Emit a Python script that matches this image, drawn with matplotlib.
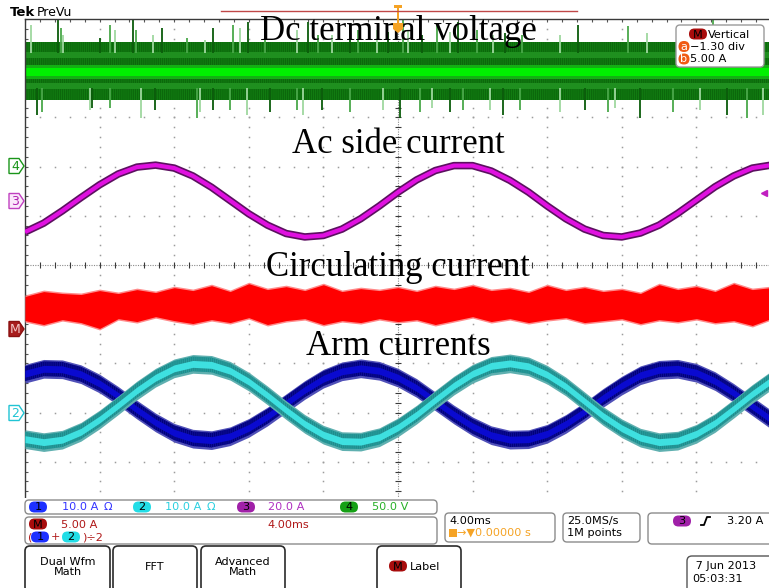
import matplotlib
matplotlib.use("Agg")
import matplotlib.pyplot as plt
import numpy as np
from matplotlib.patches import FancyBboxPatch, Polygon, Rectangle

# scope screen: 4.00 ms/div, 10 div across -> -20..20 ms ; vertical in screen divisions
t_ms = np.arange(-20, 21)

# ch3 ac side current (div)
ac_current = [0.67, 0.85, 1.10, 1.37, 1.63, 1.85, 1.99, 2.03, 1.97, 1.81, 1.58, 1.31, 1.04, 0.81,
              0.64, 0.57, 0.60, 0.73, 0.94, 1.20, 1.48, 1.73, 1.92, 2.02, 2.02, 1.91, 1.72, 1.48,
              1.20, 0.94, 0.73, 0.60, 0.57, 0.65, 0.81, 1.05, 1.32, 1.59, 1.81, 1.97, 2.03]
# ch1 / ch2 arm currents (band centre, div)
arm1 = [-2.21, -2.11, -2.12, -2.22, -2.41, -2.66, -2.94, -3.20, -3.41, -3.53, -3.56, -3.48, -3.31,
        -3.08, -2.81, -2.54, -2.31, -2.16, -2.10, -2.15, -2.29, -2.50, -2.77, -3.04, -3.28, -3.46,
        -3.55, -3.54, -3.43, -3.23, -2.98, -2.70, -2.45, -2.24, -2.13, -2.11, -2.19, -2.36, -2.60,
        -2.87, -3.14]
arm2 = [-3.54, -3.60, -3.55, -3.39, -3.14, -2.85, -2.55, -2.29, -2.10, -2.01, -2.03, -2.15, -2.37,
        -2.65, -2.95, -3.23, -3.45, -3.58, -3.59, -3.50, -3.30, -3.04, -2.74, -2.45, -2.21, -2.05,
        -2.00, -2.06, -2.23, -2.47, -2.77, -3.07, -3.32, -3.51, -3.60, -3.57, -3.43, -3.21, -2.92,
        -2.62, -2.35]
# math M = (1+2)/2 circulating current, noise envelope (div)
circ_hi = [-0.61, -0.51, -0.55, -0.57, -0.49, -0.55, -0.47, -0.53, -0.43, -0.49, -0.39, -0.51, -0.35,
           -0.47, -0.41, -0.49, -0.37, -0.51, -0.45, -0.49, -0.43, -0.51, -0.41, -0.47, -0.39, -0.49,
           -0.45, -0.53, -0.39, -0.49, -0.43, -0.51, -0.47, -0.55, -0.37, -0.47, -0.41, -0.51, -0.35,
           -0.47, -0.43]
circ_lo = [-1.16, -1.24, -1.14, -1.20, -1.32, -1.12, -1.18, -1.08, -1.16, -1.22, -1.14, -1.20, -1.10,
           -1.24, -1.16, -1.12, -1.24, -1.16, -1.20, -1.12, -1.18, -1.14, -1.24, -1.16, -1.08, -1.18,
           -1.12, -1.20, -1.14, -1.10, -1.20, -1.16, -1.12, -1.22, -1.14, -1.18, -1.12, -1.20, -1.16,
           -1.26, -1.12]
# ch4 dc terminal voltage: persistence band levels (div) and spikes
dc_outer = (3.35, 4.53)
dc_mid_hi = (4.20, 4.32)
dc_mid_lo = (3.58, 3.70)
dc_inner = (3.78, 4.06)
dc_core = (3.84, 4.00)
spike_up_t = [-19.68, -18.23, -18.07, -17.96, -15.98, -15.44, -15.17, -14.21, -14.05, -13.14, -12.65,
              -11.31, -10.35, -9.92, -8.85, -8.47, -8.04, -7.13, -5.42, -4.83, -4.29, -3.54, -2.57,
              -2.14, -1.13, -0.54, 0.27, 0.54, 1.29, 2.09, 2.79, 3.22, 4.24, 5.09, 5.74, 6.65, 8.69,
              9.65, 12.33, 13.35, 15.12, 16.89, 17.96, 18.71, 19.41]
spike_up_top = [4.88, 5.02, 4.82, 4.67, 4.61, 4.88, 4.78, 5.02, 4.78, 4.67, 4.82, 4.61, 4.57, 4.82,
                4.88, 4.82, 4.94, 4.78, 4.78, 4.94, 4.67, 4.67, 4.88, 4.78, 4.78, 4.74, 4.98, 4.78,
                4.67, 4.88, 4.74, 4.94, 4.78, 4.67, 4.72, 4.67, 4.67, 4.88, 4.86, 4.72, 4.61, 4.98,
                4.63, 4.88, 4.78]
spike_dn_t = [-19.36, -19.09, -16.51, -16.41, -15.44, -13.78, -13.03, -10.78, -10.62, -9.92, -9.01,
              -8.10, -6.86, -5.42, -5.09, -4.08, -2.57, -0.80, 0.11, 1.18, 1.82, 2.79, 3.49, 4.93,
              5.63, 6.54, 8.69, 10.03, 11.26, 11.64, 12.98, 14.75, 16.19, 17.64, 18.71, 19.57]
spike_dn_bot = [3.05, 3.11, 3.15, 3.19, 3.19, 2.99, 3.15, 2.99, 3.11, 3.15, 3.15, 3.05, 3.11, 3.15,
                3.05, 3.15, 3.11, 3.15, 2.99, 3.11, 3.19, 3.11, 3.15, 3.15, 3.05, 3.15, 3.11, 3.15,
                3.11, 3.19, 2.99, 3.11, 3.15, 3.05, 2.99, 3.05]

titles = ["Dc terminal voltage", "Ac side current", "Circulating current", "Arm currents"]

plt.rcParams["hatch.linewidth"] = 0.6

W, H = 769, 588
fig = plt.figure(figsize=(W / 100, H / 100), dpi=100)
fig.patch.set_facecolor("white")

# graticule spans px x 25..771, y 19..511
ax = fig.add_axes([25 / W, 1 - 511 / H, 746 / W, 492 / H])
ax.set_xlim(-20, 20)
ax.set_ylim(-5, 5)
ax.set_xticks([])
ax.set_yticks([])
for s in ["bottom", "right"]:
    ax.spines[s].set_visible(False)
for s in ["top", "left"]:
    ax.spines[s].set_color("#3a3a3a")
    ax.spines[s].set_linewidth(1.0)

# dotted graticule
gcol = "#9c9c9c"
ydots = np.arange(-5, 5.01, 0.2)
xdots = np.arange(-20, 20.01, 0.8)
for gx in [-16, -12, -8, -4, 4, 8, 12, 16]:
    ax.plot(np.full_like(ydots, gx), ydots, ls="none", marker="s", ms=1.1, mew=0, color=gcol, zorder=1)
for gy in [-4, -3, -2, -1, 1, 2, 3, 4]:
    ax.plot(xdots, np.full_like(xdots, gy), ls="none", marker="s", ms=1.1, mew=0, color=gcol, zorder=1)
ax.plot([-20, 20], [0, 0], color="#8a8a8a", lw=0.8, dashes=(1, 1.2), zorder=1)
ax.plot([0, 0], [-5, 5], color="#8a8a8a", lw=0.8, dashes=(1, 1.2), zorder=1)
ax.plot(xdots, np.zeros_like(xdots), ls="none", marker="|", ms=4, mew=0.8, color="#3a3a3a", zorder=1)
ax.plot(np.zeros_like(ydots), ydots, ls="none", marker="_", ms=5, mew=0.8, color="#3a3a3a", zorder=1)
ax.plot(np.full_like(ydots, -20), ydots, ls="none", marker="_", ms=4, mew=0.8, color="#555555", zorder=1)
ax.plot(xdots, np.full_like(xdots, 5), ls="none", marker="|", ms=4, mew=0.8, color="#555555", zorder=1)


def band(lo, hi, fc, hc, z):
    # persistence-style band: solid fill with fine vertical streak texture
    ax.fill_between(t_ms, lo, hi, facecolor=fc, edgecolor=hc, hatch="||||||||", lw=0, zorder=z)


# ch4 dc voltage
band(dc_outer[0], dc_outer[1], "#0b680b", "#138013", 2)
ax.fill_between(t_ms, dc_mid_hi[0], dc_mid_hi[1], color="#1f8f1f", lw=0, zorder=2)
ax.fill_between(t_ms, dc_mid_lo[0], dc_mid_lo[1], color="#1f8f1f", lw=0, zorder=2)
ax.fill_between(t_ms, dc_inner[0], dc_inner[1], color="#13b013", lw=0, zorder=2)
ax.fill_between(t_ms, dc_core[0], dc_core[1], color="#00f000", lw=0, zorder=2)
spk_cols = ["#9fd89f", "#0b5c0b", "#4aa84a"]
for i, (x, y) in enumerate(zip(spike_up_t, spike_up_top)):
    ax.vlines(x, 4.3, y, color=spk_cols[i % 3], lw=1.3, zorder=2)
for i, (x, y) in enumerate(zip(spike_dn_t, spike_dn_bot)):
    ax.vlines(x, 3.6, y, color=spk_cols[(i + 1) % 3], lw=1.3, zorder=2)

# ch3 ac current
ax.plot(t_ms, ac_current, color="#5c1060", lw=5.4, solid_capstyle="butt", zorder=3)
ax.plot(t_ms, ac_current, color="#e010e0", lw=3.0, solid_capstyle="butt", zorder=3)

# math circulating current
chi = np.array(circ_hi)
clo = np.array(circ_lo)
ax.fill_between(t_ms, clo, chi, color="#ff8a8a", lw=0, zorder=3)
ax.fill_between(t_ms, clo + 0.03, chi - 0.03, color="#ff0000", lw=0, zorder=3)

# ch1 / ch2 arm currents
a1 = np.array(arm1)
a2 = np.array(arm2)
ax.fill_between(t_ms, a1 - 0.19, a1 + 0.19, color="#5050b8", lw=0, zorder=3)
band(a1 - 0.15, a1 + 0.15, "#00007a", "#10109a", 3)
ax.fill_between(t_ms, a1 - 0.07, a1 + 0.07, color="#0a0ad0", lw=0, zorder=3)
ax.fill_between(t_ms, a2 - 0.19, a2 + 0.19, color="#5fb0b0", lw=0, zorder=4)
band(a2 - 0.15, a2 + 0.15, "#1e8c8c", "#2aa0a0", 4)
ax.fill_between(t_ms, a2 - 0.07, a2 + 0.07, color="#3ee0e0", lw=0, zorder=4)

# labels
for txt, yb in zip(titles, [4.57, 2.28, -0.22, -1.83]):
    ax.text(0, yb, txt, ha="center", va="baseline", fontsize=25,
            family="Liberation Serif", color="black", zorder=6)

# ---- overlay in pixel coordinates ----
ov = fig.add_axes([0, 0, 1, 1], zorder=5)
ov.set_xlim(0, W)
ov.set_ylim(H, 0)
ov.axis("off")
ov.patch.set_alpha(0)

ui = dict(family="DejaVu Sans", fontsize=8.1)


def rbox(x0, y0, x1, y1, ec="#8c8c8c", lw=1.0, r=4, fc="white"):
    ov.add_patch(FancyBboxPatch((x0, y0), x1 - x0, y1 - y0,
                                boxstyle=f"round,pad=0,rounding_size={r}",
                                fc=fc, ec=ec, lw=lw))


def oval(x, y, txt, fc, w=18, h=11, tc="black"):
    ov.add_patch(FancyBboxPatch((x - (w - h) / 2, y), w - h, 0,
                                boxstyle=f"round,pad={h / 2}", fc=fc, ec="none"))
    ov.text(x, y + 0.5, txt, ha="center", va="center", color=tc, **ui)


def marker(y, txt, ec, fc, tc):
    ov.add_patch(Polygon([(9, y - 7.5), (19, y - 7.5), (24, y), (19, y + 7.5), (9, y + 7.5)],
                         closed=True, fc=fc, ec=ec, lw=1.0))
    ov.text(15, y + 0.5, txt, ha="center", va="center", color=tc,
            family="DejaVu Sans", fontsize=9)


# header
ov.text(10, 12, "Tek", fontsize=9.5, fontweight="bold", family="DejaVu Sans", va="center")
ov.text(37, 12, "PreVu", fontsize=9, family="DejaVu Sans", va="center")
ov.plot([221, 577], [11, 11], color="#c04848", lw=1.0)
og = "#f5a325"
ov.add_patch(Rectangle((394, 5), 8, 3, fc=og, ec="none"))
ov.add_patch(Rectangle((396.6, 8), 2.8, 15, fc=og, ec="none"))
ov.add_patch(Polygon([(393, 23), (403, 23), (403, 29), (398, 33), (393, 29)], fc=og, ec="none"))

# channel offset markers
marker(166, "4", "#1a951a", "white", "#1a951a")
marker(201, "3", "#c040c0", "#fbe8fb", "#b020b0")
marker(329, "M", "#8a1010", "#a81c1c", "#f2c8c8")
marker(413, "2", "#20c4d4", "white", "#20c4d4")
ov.plot(764, 193, marker="<", ms=5, color="#c020c0")

# math vertical box
rbox(676, 25, 764, 67, ec="#9a9a9a")
oval(698, 34, "M", "#a80c0c")
ov.text(708, 34.5, "Vertical", va="center", **ui)
oval(684, 46.5, "a", "#f05a14", w=11, tc="white")
ov.text(690, 47, "\u22121.30 div", va="center", **ui)
oval(684, 59, "b", "#f05a14", w=11, tc="white")
ov.text(690, 59.5, "5.00 A", va="center", **ui)

# readout area
ov.add_patch(Rectangle((0, 498), W, H - 498, fc="white", ec="none"))
rbox(25, 500, 437, 514)
oval(38, 507, "1", "#1c30ff")
ov.text(62, 507.5, "10.0 A", color="#3434ff", va="center", **ui)
ov.text(104, 507.5, "\u03a9", color="#3434ff", va="center", **ui)
oval(142, 507, "2", "#22dde6")
ov.text(165, 507.5, "10.0 A", color="#2ad0e0", va="center", **ui)
ov.text(207, 507.5, "\u03a9", color="#2ad0e0", va="center", **ui)
oval(246, 507, "3", "#a020a8")
ov.text(268, 507.5, "20.0 A", color="#b030c0", va="center", **ui)
oval(349, 507, "4", "#16a016")
ov.text(372, 507.5, "50.0 V", color="#28b028", va="center", **ui)

rbox(25, 517, 437, 544)
dr = "#b01818"
oval(38, 524, "M", "#a80c0c")
ov.text(61, 524.5, "5.00 A", color=dr, va="center", **ui)
ov.text(267, 524.5, "4.00ms", color=dr, va="center", **ui)
ov.text(28, 537.5, "(", color=dr, va="center", **ui)
oval(40, 537, "1", "#1c30ff")
ov.text(55, 537.5, "+", color=dr, va="center", ha="center", **ui)
oval(71, 537, "2", "#22dde6")
ov.text(82, 537.5, ")\u00f72", color=dr, va="center", **ui)

rbox(445, 513, 555, 542)
ov.text(449, 521, "4.00ms", va="center", **ui)
ov.add_patch(Rectangle((449, 529), 8, 8, fc=og, ec="none"))
ov.text(457, 533, "\u2192\u25bc0.00000 s", color=og, va="center", **ui)
rbox(563, 513, 640, 542)
ov.text(567, 521, "25.0MS/s", va="center", **ui)
ov.text(567, 533, "1M points", va="center", **ui)
rbox(648, 513, 775, 544)
oval(682, 521, "3", "#a020a8")
ov.plot([701, 704, 707, 710], [525, 525, 517, 517], color="black", lw=1.3)
ov.text(727, 521, "3.20 A", va="center", **ui)

# soft buttons
for x0, x1, lab in [(25, 110, "Dual Wfm\nMath"), (113, 197, "FFT"), (201, 285, "Advanced\nMath")]:
    rbox(x0, 546, x1, 592, ec="#2a2a2a", lw=1.2, r=5)
    ov.text((x0 + x1) / 2, 567, lab, ha="center", va="center", linespacing=1.05, **ui)
rbox(377, 546, 461, 592, ec="#2a2a2a", lw=1.2, r=5)
oval(398, 566, "M", "#a80c0c")
ov.text(410, 566.5, "Label", va="center", **ui)
rbox(687, 556, 775, 595, ec="#555555", lw=1.0, r=5)
ov.text(692, 566, " 7 Jun 2013", va="center", **ui)
ov.text(692, 579, "05:03:31", va="center", **ui)

fig.savefig("out.png", dpi=100)
